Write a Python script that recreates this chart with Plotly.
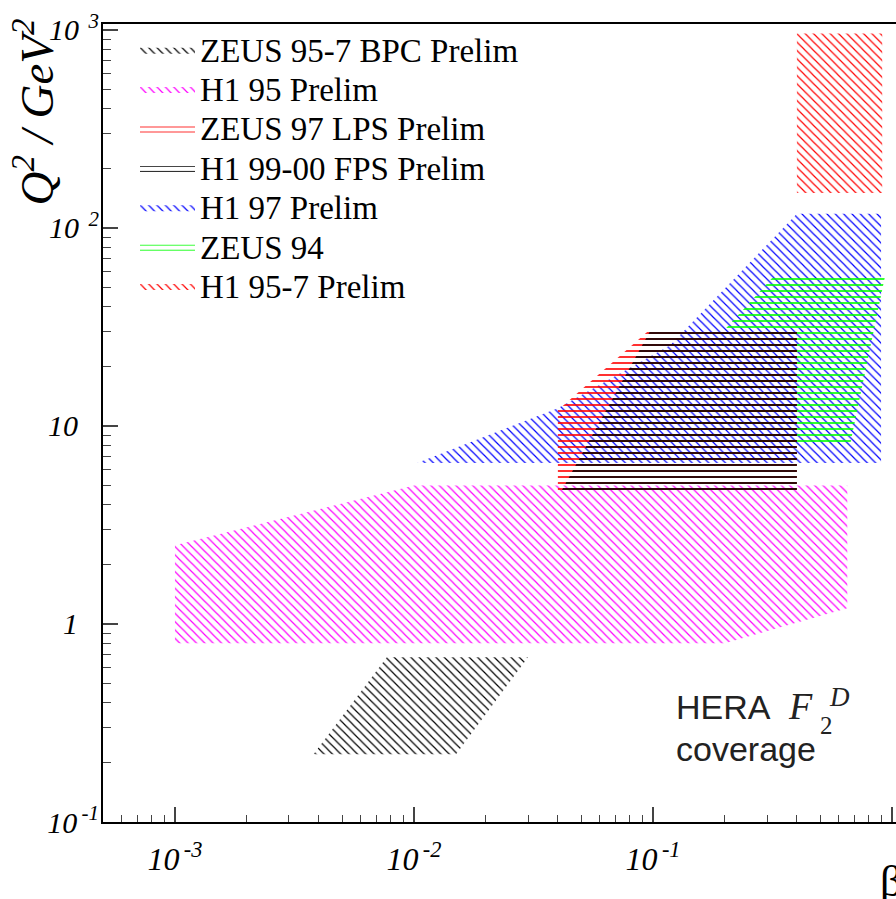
import numpy as np
import plotly.graph_objects as go

# ---------------- data ----------------
# each region: beta (x) and Q^2 (y) polygon vertices
bpc_beta = [0.0038, 0.015, 0.030, 0.0077]
bpc_q2 = [0.22, 0.22, 0.68, 0.68]

h195_beta = [0.001, 0.2, 0.65, 0.65, 0.01, 0.001]
h195_q2 = [0.8, 0.8, 1.2, 5.0, 5.0, 2.5]

lps_beta = [0.04, 0.40, 0.40, 0.095, 0.04]
lps_q2 = [4.6, 4.6, 30.0, 30.0, 12.0]

fps_beta = [0.041, 0.40, 0.40, 0.097]
fps_q2 = [4.6, 4.6, 30.0, 30.0]

h197_beta = [0.0103, 0.90, 0.90, 0.40, 0.118, 0.04]
h197_q2 = [6.5, 6.5, 118.0, 118.0, 25.6, 12.3]

z94_beta = [0.32, 0.935, 0.67, 0.073]
z94_q2 = [57.0, 57.0, 8.2, 8.2]

h1957_beta = [0.40, 0.91, 0.91, 0.40]
h1957_q2 = [150.0, 150.0, 960.0, 960.0]

x_tickvals = [0.001, 0.01, 0.1, 1]
x_ticktext = ["<i>10<sup>\u2009-3</sup></i>", "<i>10<sup>\u2009-2</sup></i>",
              "<i>10<sup>\u2009-1</sup></i>", "<i>1</i>"]
y_tickvals = [0.1, 1, 10, 100, 1000]
y_ticktext = ["<i>10<sup>\u2009-1</sup></i>", "<i>1</i>\u2002\u2009", "<i>10</i>\u2002\u2009",
              "<i>10<sup>\u2009 2</sup></i>", "<i>10<sup>\u2009 3</sup></i>"]

# (name, beta, q2, colour, pattern, legend rank) in drawing order
regions = [
    ("H1 95 Prelim", h195_beta, h195_q2, "#ff00ff", "\\", 2),
    ("ZEUS 95-7 BPC Prelim", bpc_beta, bpc_q2, "#000000", "\\", 1),
    ("H1 97 Prelim", h197_beta, h197_q2, "#0000ff", "\\", 5),
    ("ZEUS 94", z94_beta, z94_q2, "#00ff00", "-", 6),
    ("ZEUS 97 LPS Prelim", lps_beta, lps_q2, "#ff0000", "-", 3),
    ("H1 99-00 FPS Prelim", fps_beta, fps_q2, "#000000", "-", 4),
    ("H1 95-7 Prelim", h1957_beta, h1957_q2, "#ff0000", "\\", 7),
]

SERIF = "Liberation Serif"
SANS = "Liberation Sans"

fig = go.Figure()
for name, bx, qy, col, pat, rank in regions:
    if pat == "\\":
        fp = dict(shape="\\", size=5.9, solidity=0.2, fgcolor=col,
                  bgcolor="rgba(0,0,0,0)", fillmode="replace")
    else:
        fp = dict(shape="-", size=6, solidity=0.27, fgcolor=col,
                  bgcolor="rgba(0,0,0,0)", fillmode="replace")
    fig.add_trace(go.Scatter(
        x=bx, y=qy, name="<span style='font-size:33px'>" + name + "</span>",
        mode="none", fill="toself",
        fillcolor="rgba(0,0,0,0)", fillpattern=fp, legendrank=rank,
        hoverinfo="skip",
    ))

minor_vals = [m * 10.0 ** d for d in range(-4, 4) for m in range(2, 10)]

fig.update_xaxes(
    type="log", range=[np.log10(5e-4), 0.0167], automargin=False,
    showline=True, linecolor="black", linewidth=2, mirror=True,
    showgrid=False, zeroline=False,
    ticks="inside", ticklen=15, tickwidth=1.5, tickcolor="#444",
    tickvals=x_tickvals, ticktext=x_ticktext, ticklabelstandoff=8,
    tickfont=dict(family=SERIF, size=32, color="black"),
    minor=dict(tickvals=minor_vals, ticks="inside", ticklen=7,
               tickwidth=1, tickcolor="#444", showgrid=False),
)
fig.update_yaxes(
    type="log", range=[-1, 3.03], automargin=False,
    showline=True, linecolor="black", linewidth=2, mirror=False,
    showgrid=False, zeroline=False,
    ticks="inside", ticklen=15, tickwidth=1.5, tickcolor="#444",
    tickvals=y_tickvals, ticktext=y_ticktext, ticklabelstandoff=-4,
    tickfont=dict(family=SERIF, size=30, color="black"),
    minor=dict(tickvals=minor_vals, ticks="inside", ticklen=8,
               tickwidth=1, tickcolor="#444", showgrid=False),
)

FIG_W, FIG_H = 896, 899
L, T, W, H = 103, 24, 793, 798


def px(xp):
    return (xp - L) / W


def py(yp):
    return 1 - (yp - T) / H


annots = [
    dict(text="<i>Q<sup>2</sup> / GeV<sup>2</sup></i>", textangle=-90,
         x=px(34), y=py(17), xanchor="center", yanchor="top",
         font=dict(family=SERIF, size=47, color="black")),
    dict(text="\u03b2", x=px(878), y=py(855), xanchor="left", yanchor="top",
         font=dict(family=SERIF, size=44, color="black")),
    dict(text="HERA", x=px(674), y=py(707), xanchor="left", yanchor="middle",
         font=dict(family=SANS, size=34, color="#222")),
    dict(text="<i>F</i>", x=px(786), y=py(706), xanchor="left", yanchor="middle",
         font=dict(family=SERIF, size=38, color="#222")),
    dict(text="2", x=px(818), y=py(725), xanchor="left", yanchor="middle",
         font=dict(family=SERIF, size=25, color="#222")),
    dict(text="<i>D</i>", x=px(827), y=py(697), xanchor="left", yanchor="middle",
         font=dict(family=SERIF, size=27, color="#222")),
    dict(text="coverage", x=px(674), y=py(749), xanchor="left", yanchor="middle",
         font=dict(family=SANS, size=34, color="#222")),
]
for a in annots:
    a.update(xref="paper", yref="paper", showarrow=False)

fig.update_layout(
    width=FIG_W, height=FIG_H,
    margin=dict(l=L, r=FIG_W - L - W, t=T, b=FIG_H - T - H, pad=0, autoexpand=False),
    paper_bgcolor="white", plot_bgcolor="white",
    annotations=annots,
    showlegend=True,
    legend=dict(x=px(135), y=py(26), xanchor="left", yanchor="top",
                font=dict(family=SERIF, size=28, color="black"),
                bgcolor="rgba(0,0,0,0)", itemwidth=55, tracegroupgap=0),
)

fig.write_html(
    "out.html",
    config={"displayModeBar": False},
    post_script="document.body.style.margin='0';document.body.style.overflow='hidden';",
)
